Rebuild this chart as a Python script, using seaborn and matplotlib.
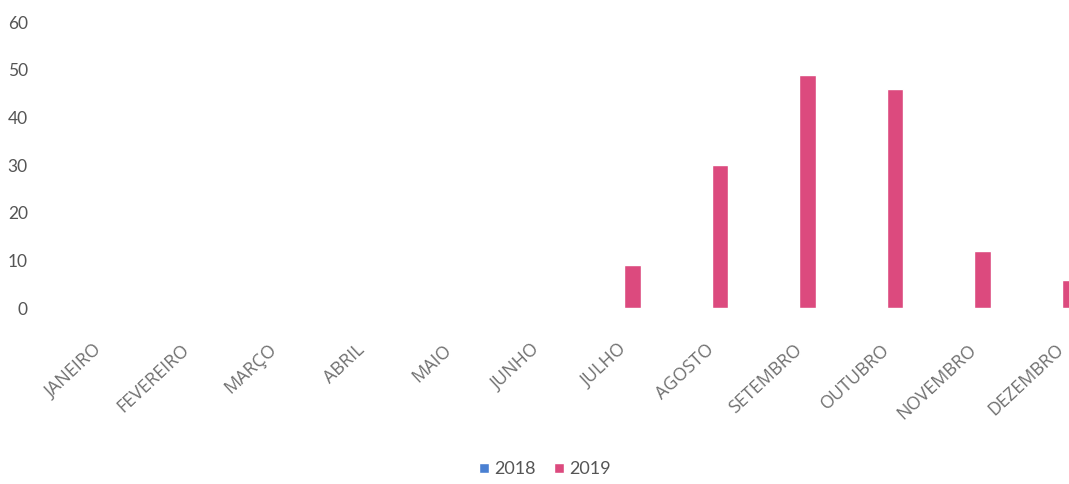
import numpy as np
import pandas as pd
import matplotlib
matplotlib.use("Agg")
import matplotlib.pyplot as plt
import seaborn as sns

months = ["JANEIRO", "FEVEREIRO", "MARÇO", "ABRIL", "MAIO", "JUNHO",
          "JULHO", "AGOSTO", "SETEMBRO", "OUTUBRO", "NOVEMBRO", "DEZEMBRO"]
values_2018 = [0, 0, 0, 0, 0, 0, 0, 0, 0, 0, 0, 0]
values_2019 = [0, 0, 0, 0, 0, 0, 9, 30, 49, 46, 12, 6]
years = ["2018", "2019"]
colors = ["#4a80d2", "#dc4a7e"]

df = pd.DataFrame({
    "mes": months * 2,
    "ano": [years[0]] * len(months) + [years[1]] * len(months),
    "valor": values_2018 + values_2019,
})

sns.set_theme(style="white")
plt.rcParams["font.family"] = ["Lato", "DejaVu Sans"]

fig = plt.figure(figsize=(10.69, 4.84), dpi=100)
ax = fig.add_axes([0.052, 0.363, 0.982, 0.591])

sns.barplot(data=df, x="mes", y="valor", hue="ano", order=months,
            hue_order=years, palette=colors, width=0.38, saturation=1,
            ax=ax, legend=True)

ax.set_ylim(0, 60)
ax.set_xlim(-0.5, 11.5)
ax.set_yticks(np.arange(0, 61, 10))
ax.set_xlabel("")
ax.set_ylabel("")
sns.despine(ax=ax, left=True, bottom=True)
ax.tick_params(axis="y", length=0, pad=20, labelsize=12.5, labelcolor="#555555")
ax.tick_params(axis="x", length=0, pad=28, labelsize=13, labelcolor="#707070")
for lab in ax.get_xticklabels():
    lab.set_rotation(43)
    lab.set_ha("right")
    lab.set_va("center")
    lab.set_rotation_mode("anchor")
    lab.set_family(["Open Sans", "DejaVu Sans"])

handles, labels = ax.get_legend_handles_labels()
ax.get_legend().remove()
fig.legend(handles, labels, loc="lower center", bbox_to_anchor=(0.51, -0.02),
           ncol=2, frameon=False, fontsize=13, handlelength=0.55,
           handleheight=0.55, handletextpad=0.3, columnspacing=1.0,
           labelcolor="#555555")

fig.savefig("out.png", dpi=100)
